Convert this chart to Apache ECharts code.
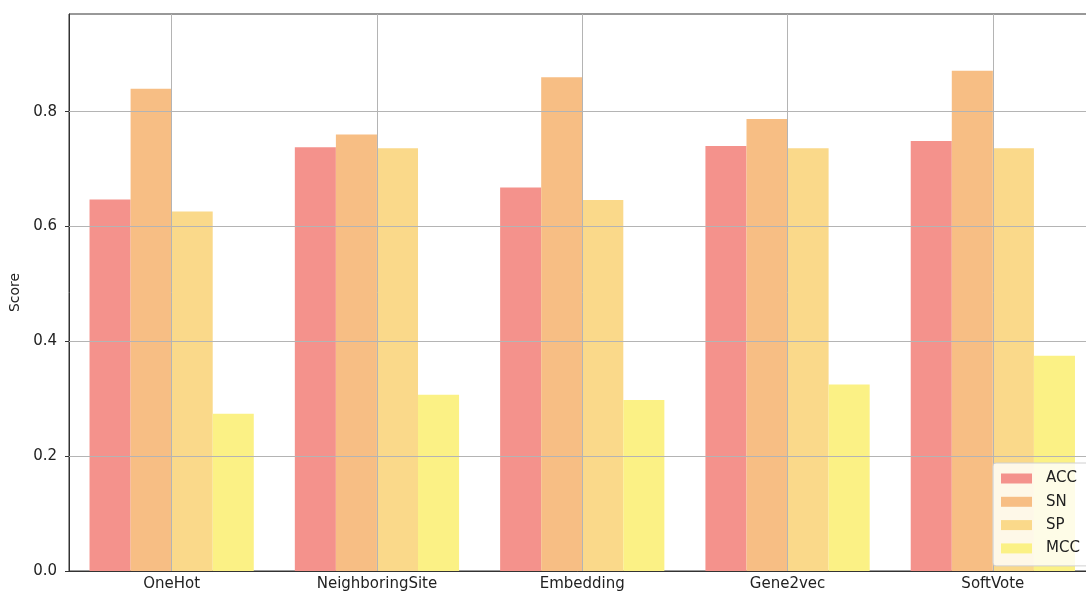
<!DOCTYPE html>
<html>
<head>
<meta charset="utf-8">
<script src="https://cdn.jsdelivr.net/npm/echarts@6/dist/echarts.min.js"></script>
<style>
  html, body { margin: 0; padding: 0; background: #fff; }
  #chart { width: 1086px; height: 596px; }
</style>
</head>
<body>
<div id="chart"></div>
<script>
// Feature encodings compared on four metrics
const categories = ['OneHot', 'NeighboringSite', 'Embedding', 'Gene2vec', 'SoftVote'];
const accValues = [0.647, 0.738, 0.668, 0.740, 0.749];
const snValues  = [0.840, 0.760, 0.860, 0.787, 0.871];
const spValues  = [0.626, 0.736, 0.646, 0.736, 0.736];
const mccValues = [0.274, 0.307, 0.298, 0.325, 0.375];
const seriesNames = ['ACC', 'SN', 'SP', 'MCC'];
const yTicks = [0.2, 0.4, 0.6, 0.8];

const colors = ['#F4928C', '#F7BE84', '#FAD98A', '#FBF185'];
const font = 'DejaVu Sans';
const gridColor = '#b4b4b4';

const values = [accValues, snValues, spValues, mccValues];
const series = seriesNames.map((name, i) => ({
  name: name,
  type: 'bar',
  data: values[i],
  barWidth: '20%',
  barGap: '0%',
  itemStyle: { color: colors[i] }
}));

// grid lines are drawn above the bars, as marker lines of an empty line series
series.push({
  name: 'grid',
  type: 'line',
  data: [],
  silent: true,
  markLine: {
    silent: true,
    symbol: 'none',
    label: { show: false },
    lineStyle: { color: gridColor, width: 1, type: 'solid' },
    emphasis: { disabled: true },
    data: yTicks.map(v => ({ yAxis: v }))
      .concat(categories.map(c => ({ xAxis: c })))
  }
});

const chart = echarts.init(document.getElementById('chart'), null, { renderer: 'canvas' });
chart.setOption({
  animation: false,
  backgroundColor: '#fff',
  grid: {
    left: 69, top: 14, bottom: 25, width: 1026.5,
    show: true, borderColor: '#333', borderWidth: 1,
    backgroundColor: 'transparent',
    containLabel: false, outerBoundsMode: 'none'
  },
  legend: {
    data: seriesNames,
    orient: 'vertical',
    left: 993, top: 463,
    icon: 'rect',
    itemWidth: 31, itemHeight: 10, itemGap: 8.3,
    padding: [8, 30, 10, 8],
    backgroundColor: 'rgba(255,255,255,0.8)',
    borderColor: '#d0d0d0', borderWidth: 1, borderRadius: 3,
    z: 6,
    textStyle: { fontFamily: font, fontSize: 15, color: '#222', padding: [0, 0, 0, 9] }
  },
  xAxis: {
    type: 'category',
    data: categories,
    axisLine: { lineStyle: { color: '#333', width: 1 } },
    axisTick: { alignWithLabel: true, length: 4, lineStyle: { color: '#333' } },
    axisLabel: { fontFamily: font, fontSize: 15, color: '#222', margin: 6 },
    splitLine: { show: false }
  },
  yAxis: {
    type: 'value',
    min: 0, max: 0.97, interval: 0.2,
    name: 'Score',
    nameLocation: 'middle',
    nameGap: 43,
    nameTextStyle: { fontFamily: font, fontSize: 14, color: '#222' },
    axisLine: { show: true, lineStyle: { color: '#333', width: 1 } },
    axisTick: { show: true, length: 4, lineStyle: { color: '#333' } },
    axisLabel: {
      fontFamily: font, fontSize: 15, color: '#222', margin: 12,
      showMaxLabel: false,
      formatter: v => v.toFixed(1)
    },
    splitLine: { show: false }
  },
  series: series
});
</script>
</body>
</html>
